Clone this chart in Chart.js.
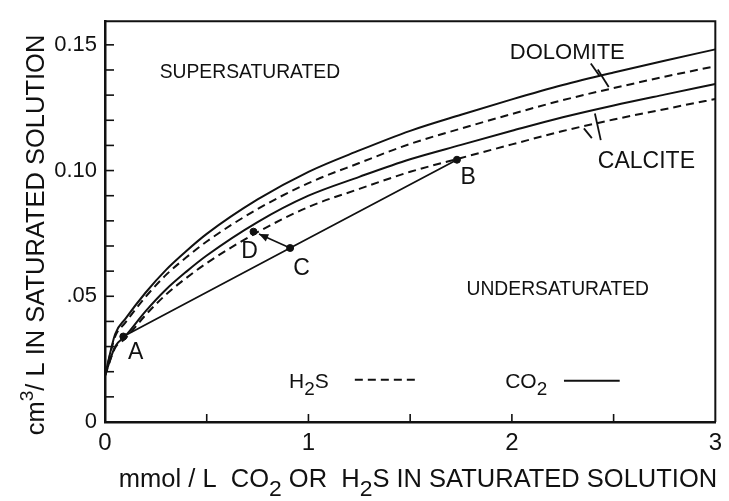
<!DOCTYPE html>
<html><head><meta charset="utf-8">
<script src="https://cdn.jsdelivr.net/npm/chart.js@4.4.1/dist/chart.umd.min.js"></script>
<style>html,body{margin:0;padding:0;background:#fff}</style>
</head><body>
<canvas id="c" width="729" height="501"></canvas>
<script>
// ---- data ----
const xValues     = [0, 0.05, 0.1, 0.2, 0.3, 0.4, 0.5, 0.75, 1, 1.25, 1.5, 1.75, 2, 2.25, 2.5, 2.75, 3];
const dolomiteCO2 = [0.0184, 0.035, 0.041, 0.0515, 0.0605, 0.068, 0.0748, 0.0885, 0.0995, 0.108, 0.1158, 0.1222, 0.1283, 0.1340, 0.1390, 0.1437, 0.1482];
const dolomiteH2S = [0.0184, 0.034, 0.0395, 0.0498, 0.0585, 0.0655, 0.0718, 0.0847, 0.095, 0.103, 0.1106, 0.1167, 0.1225, 0.128, 0.1328, 0.1373, 0.1415];
const calciteCO2  = [0.0184, 0.030, 0.0342, 0.0441, 0.0527, 0.0598, 0.0662, 0.0795, 0.090, 0.0975, 0.1045, 0.1102, 0.1158, 0.1212, 0.1259, 0.1302, 0.1344];
const calciteH2S  = [0.0184, 0.0295, 0.0332, 0.0426, 0.0507, 0.0573, 0.0632, 0.0755, 0.0855, 0.0927, 0.0995, 0.105, 0.1104, 0.1157, 0.1203, 0.1244, 0.1285];
const pointNames  = ['A', 'C', 'B', 'D'];
const pointX      = [0.09, 0.91, 1.73, 0.73];
const pointY      = [0.034, 0.0692, 0.1043, 0.0757];
const pathOrder   = [0, 1, 2];          // A -> C -> B straight line
const xTickValues = [0, 1, 2, 3];
const xTickLabels = ['0', '1', '2', '3'];
const yTickValues = [0, 0.05, 0.10, 0.15];
const yTickLabels = ['0', '.05', '0.10', '0.15'];

// ---- presentation ----
const FF = '"Liberation Sans", Arial, Helvetica, sans-serif';
const INK = '#111';
const toXY = ys => xValues.map((x, i) => ({x, y: ys[i]}));

function lookupLabel(v, vals, labs) {
  for (let i = 0; i < vals.length; i++) if (Math.abs(v - vals[i]) < 1e-6) return labs[i];
  return '';
}

function rich(ctx, parts, x, y, size, align) {
  let w = 0;
  const sz = parts.map(p => p[1] === 1 ? size * 0.9 : (p[1] === 2 ? size * 0.75 : size));
  parts.forEach((p, i) => { ctx.font = sz[i] + 'px ' + FF; w += ctx.measureText(p[0]).width; });
  let cx = align === 'center' ? x - w / 2 : (align === 'right' ? x - w : x);
  ctx.textAlign = 'left'; ctx.textBaseline = 'alphabetic';
  parts.forEach((p, i) => {
    ctx.font = sz[i] + 'px ' + FF;
    const dy = p[1] === 1 ? size * 0.36 : (p[1] === 2 ? -size * 0.42 : 0);
    ctx.fillText(p[0], cx, y + dy);
    cx += ctx.measureText(p[0]).width;
  });
}

// text annotations (data coordinates)
const textNotes = [
  {parts: [['SUPERSATURATED']], x: 0.269, y: 0.1367, size: 19.3},
  {parts: [['UNDERSATURATED']], x: 1.777, y: 0.0504, size: 19.3},
  {parts: [['DOLOMITE']], x: 1.99, y: 0.1445, size: 22},
  {parts: [['CALCITE']], x: 2.4225, y: 0.1012, size: 23},
  {parts: [['A']], x: 0.1126, y: 0.025, size: 23},
  {parts: [['B']], x: 1.747, y: 0.0945, size: 23},
  {parts: [['C']], x: 0.925, y: 0.0586, size: 23},
  {parts: [['D']], x: 0.670, y: 0.0652, size: 23},
  {parts: [['H'], ['2', 1], ['S']], x: 0.905, y: 0.01367, size: 21},
  {parts: [['CO'], ['2', 1]], x: 1.967, y: 0.01367, size: 21}
];
// leader / legend strokes (data coordinates)
const strokes = [
  {x1: 1.228, y1: 0.0168, x2: 1.527, y2: 0.0168, dash: [8, 5]},
  {x1: 2.256, y1: 0.0164, x2: 2.530, y2: 0.0164, dash: []},
  {x1: 2.388, y1: 0.1426, x2: 2.432, y2: 0.1375, dash: []},
  {x1: 2.422, y1: 0.1402, x2: 2.476, y2: 0.1332, dash: []},
  {x1: 2.354, y1: 0.1168, x2: 2.393, y2: 0.1129, dash: []},
  {x1: 2.408, y1: 0.1227, x2: 2.437, y2: 0.1121, dash: []}
];

const annot = {
  id: 'annot',
  afterDatasetsDraw(chart) {
    const {ctx, chartArea: a, scales: {x, y}} = chart;
    ctx.save();
    ctx.strokeStyle = INK; ctx.fillStyle = INK;
    // frame top & right
    ctx.lineWidth = 2;
    ctx.beginPath(); ctx.moveTo(a.left, a.top); ctx.lineTo(a.right, a.top); ctx.lineTo(a.right, a.bottom); ctx.stroke();
    // inward ticks
    ctx.lineWidth = 1.6;
    x.ticks.forEach(t => {
      if (t.value <= 0 || t.value >= 3) return;
      const px = x.getPixelForValue(t.value);
      ctx.beginPath(); ctx.moveTo(px, a.bottom); ctx.lineTo(px, a.bottom - 8); ctx.stroke();
    });
    y.ticks.forEach(t => {
      if (t.value <= 0 || t.value > 0.1505) return;
      const py = y.getPixelForValue(t.value);
      ctx.beginPath(); ctx.moveTo(a.left, py); ctx.lineTo(a.left + 9, py); ctx.stroke();
    });
    // arrow C -> D
    const cx = x.getPixelForValue(pointX[1]), cy = y.getPixelForValue(pointY[1]);
    const dx = x.getPixelForValue(pointX[3]), dy = y.getPixelForValue(pointY[3]);
    const ang = Math.atan2(dy - cy, dx - cx);
    const len = Math.hypot(dx - cx, dy - cy) - 6;
    const ex = cx + Math.cos(ang) * len, ey = cy + Math.sin(ang) * len;
    ctx.lineWidth = 1.6;
    ctx.beginPath(); ctx.moveTo(cx, cy); ctx.lineTo(ex, ey); ctx.stroke();
    ctx.beginPath();
    ctx.moveTo(ex, ey);
    ctx.lineTo(ex - 10 * Math.cos(ang - 0.4), ey - 10 * Math.sin(ang - 0.4));
    ctx.lineTo(ex - 10 * Math.cos(ang + 0.4), ey - 10 * Math.sin(ang + 0.4));
    ctx.closePath(); ctx.fill();
    // strokes
    strokes.forEach(s => {
      ctx.setLineDash(s.dash); ctx.lineWidth = 1.8;
      ctx.beginPath();
      ctx.moveTo(x.getPixelForValue(s.x1), y.getPixelForValue(s.y1));
      ctx.lineTo(x.getPixelForValue(s.x2), y.getPixelForValue(s.y2));
      ctx.stroke();
    });
    ctx.setLineDash([]);
    // texts
    textNotes.forEach(n => rich(ctx, n.parts, x.getPixelForValue(n.x), y.getPixelForValue(n.y), n.size, 'left'));
    // axis titles
    rich(ctx, [['mmol / L  CO'], ['2', 1], [' OR  H'], ['2', 1], ['S IN SATURATED SOLUTION']], 418, 487, 25.5, 'center');
    ctx.save();
    ctx.translate(44, 235);
    ctx.rotate(-Math.PI / 2);
    rich(ctx, [['cm'], ['3', 2], ['/ L IN SATURATED SOLUTION']], 0, 0, 25.5, 'center');
    ctx.restore();
    ctx.restore();
  }
};

const lineDs = (data, dash) => ({
  type: 'line', data: toXY(data), borderColor: INK, borderWidth: 2, borderDash: dash,
  pointRadius: 0, cubicInterpolationMode: 'monotone', fill: false
});

new Chart(document.getElementById('c'), {
  data: {
    datasets: [
      lineDs(dolomiteCO2, []),
      lineDs(dolomiteH2S, [8, 5]),
      lineDs(calciteCO2, []),
      lineDs(calciteH2S, [8, 5]),
      {type: 'line', data: pathOrder.map(i => ({x: pointX[i], y: pointY[i]})), borderColor: INK, borderWidth: 1.8, pointRadius: 0, tension: 0},
      {type: 'scatter', data: pointX.map((x, i) => ({x, y: pointY[i]})), pointRadius: 3.5, backgroundColor: INK, borderColor: INK}
    ]
  },
  options: {
    responsive: false, animation: false, devicePixelRatio: 1,
    layout: {padding: {top: 14, right: 11, left: 0, bottom: 0}},
    plugins: {legend: {display: false}, tooltip: {enabled: false}},
    scales: {
      x: {
        type: 'linear', min: 0, max: 3,
        afterFit: s => { s.height = 79; },
        grid: {display: false, drawTicks: false},
        border: {display: true, color: INK, width: 2.5},
        ticks: {stepSize: 0.5, autoSkip: false, maxRotation: 0, padding: 7, color: INK,
          font: {family: FF, size: 24},
          callback: v => lookupLabel(v, xTickValues, xTickLabels)}
      },
      y: {
        type: 'linear', min: 0, max: 0.1594,
        afterFit: s => { s.width = 105; },
        grid: {display: false, drawTicks: false},
        border: {display: true, color: INK, width: 2.5},
        ticks: {stepSize: 0.01, autoSkip: false, includeBounds: false, padding: 8, color: INK,
          font: {family: FF, size: 22},
          callback: v => lookupLabel(v, yTickValues, yTickLabels)}
      }
    }
  },
  plugins: [annot]
});
</script>
</body></html>
